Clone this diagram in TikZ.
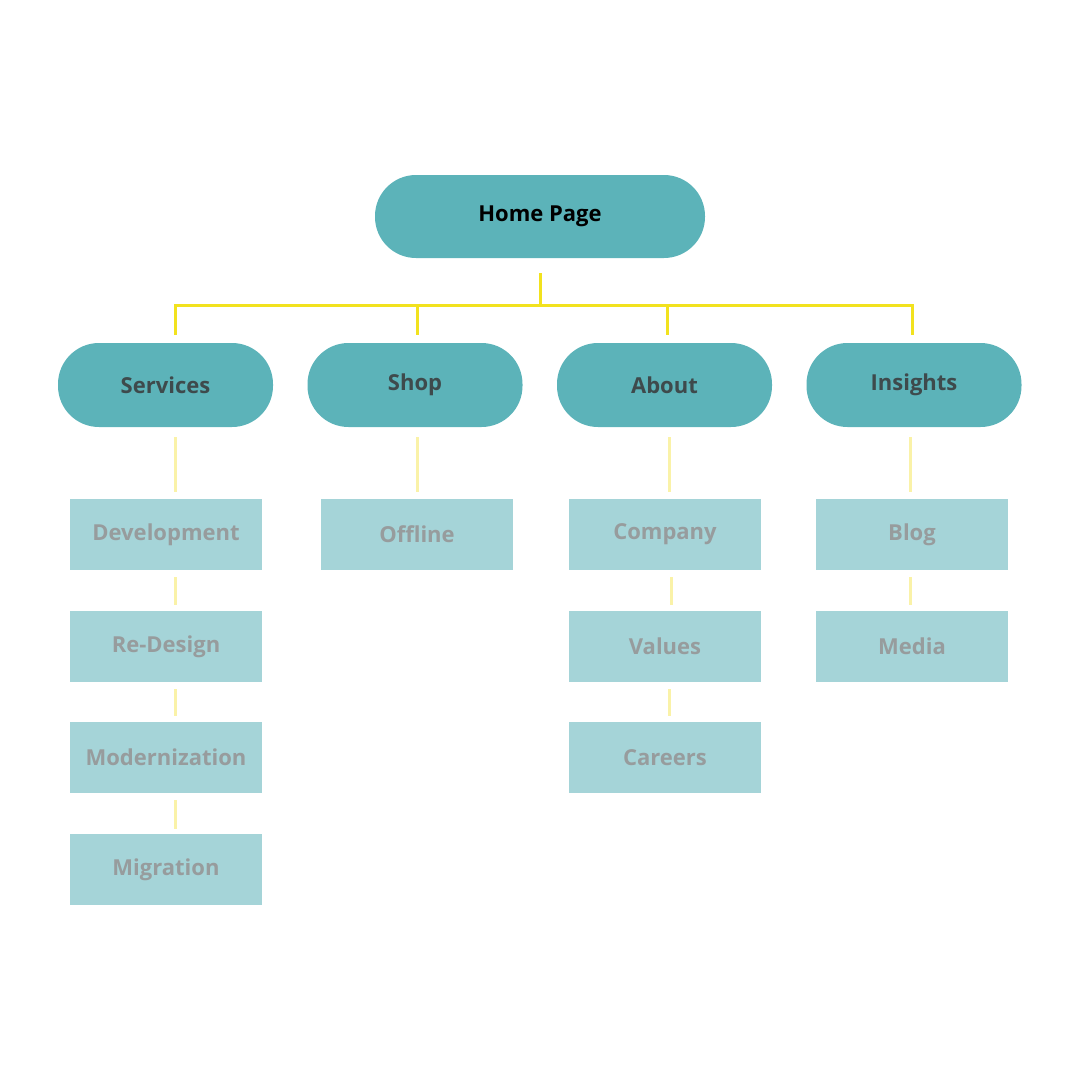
\documentclass[tikz,border=0pt]{standalone}
\usepackage{fontspec}
\setmainfont{Open Sans}
\definecolor{dteal}{HTML}{128F98}
\definecolor{mteal}{HTML}{5CB3B9}
\definecolor{lteal}{HTML}{A5D4D8}
\definecolor{ylw}{HTML}{F2E21E}
\definecolor{lylw}{HTML}{FAF2A8}
\definecolor{dtext}{HTML}{3E4A4C}
\definecolor{gtext}{HTML}{979C9D}
\begin{document}
\begin{tikzpicture}[x=1pt,y=-1pt,
  root/.style={rounded rectangle,fill=dteal,minimum width=330pt,minimum height=83pt,font=\fontsize{22}{26}\selectfont\bfseries,text=black},
  sec/.style={fill=mteal,rounded corners=41pt,minimum width=215pt,minimum height=84pt,font=\fontsize{22}{26}\selectfont\bfseries,text=dtext},
  leaf/.style={fill=lteal,minimum width=192pt,minimum height=71pt,font=\fontsize{22}{26}\selectfont\bfseries,text=gtext},
  main/.style={draw=ylw,line width=3pt},
  sub/.style={draw=lylw,line width=3pt}]
\useasboundingbox (0,0) rectangle (1080,1080);
\node[sec,minimum width=330pt,minimum height=83pt,text=black] (home) at (540,216.5) {Home Page};
\node[sec] (s) at (165.5,385) {Services};
\node[sec] (sh) at (415,385) {Shop};
\node[sec] (ab) at (664.5,385) {About};
\node[sec] (in) at (914,385) {Insights};
\coordinate (t) at (540,273);
\coordinate (j) at (540,305);
\draw[main] (t) -- (j);
\draw[main] (175,335) |- (912,305) -- (912,335);
\draw[main] (417,305) -- (417,335);
\draw[main] (667,305) -- (667,335);
\foreach \n/\x/\y/\t in {d/166/534.5/Development, r/166/646.5/Re-Design, m/166/757.5/Modernization, g/166/869.5/Migration,
  o/417/534.5/Offline, c/665/534.5/Company, v/665/646.5/Values, ca/665/757.5/Careers,
  b/912/534.5/Blog, me/912/646.5/Media}
  \node[leaf] (\n) at (\x,\y) {\t};
\foreach \x/\a/\b in {175/437/492, 175/577/605, 175/689/716, 175/800/829, 417/437/492, 669/437/492, 671/577/605, 669/689/716, 910/437/492, 910/577/605}
  \draw[sub] (\x,\a) -- (\x,\b);
\end{tikzpicture}
\end{document}
